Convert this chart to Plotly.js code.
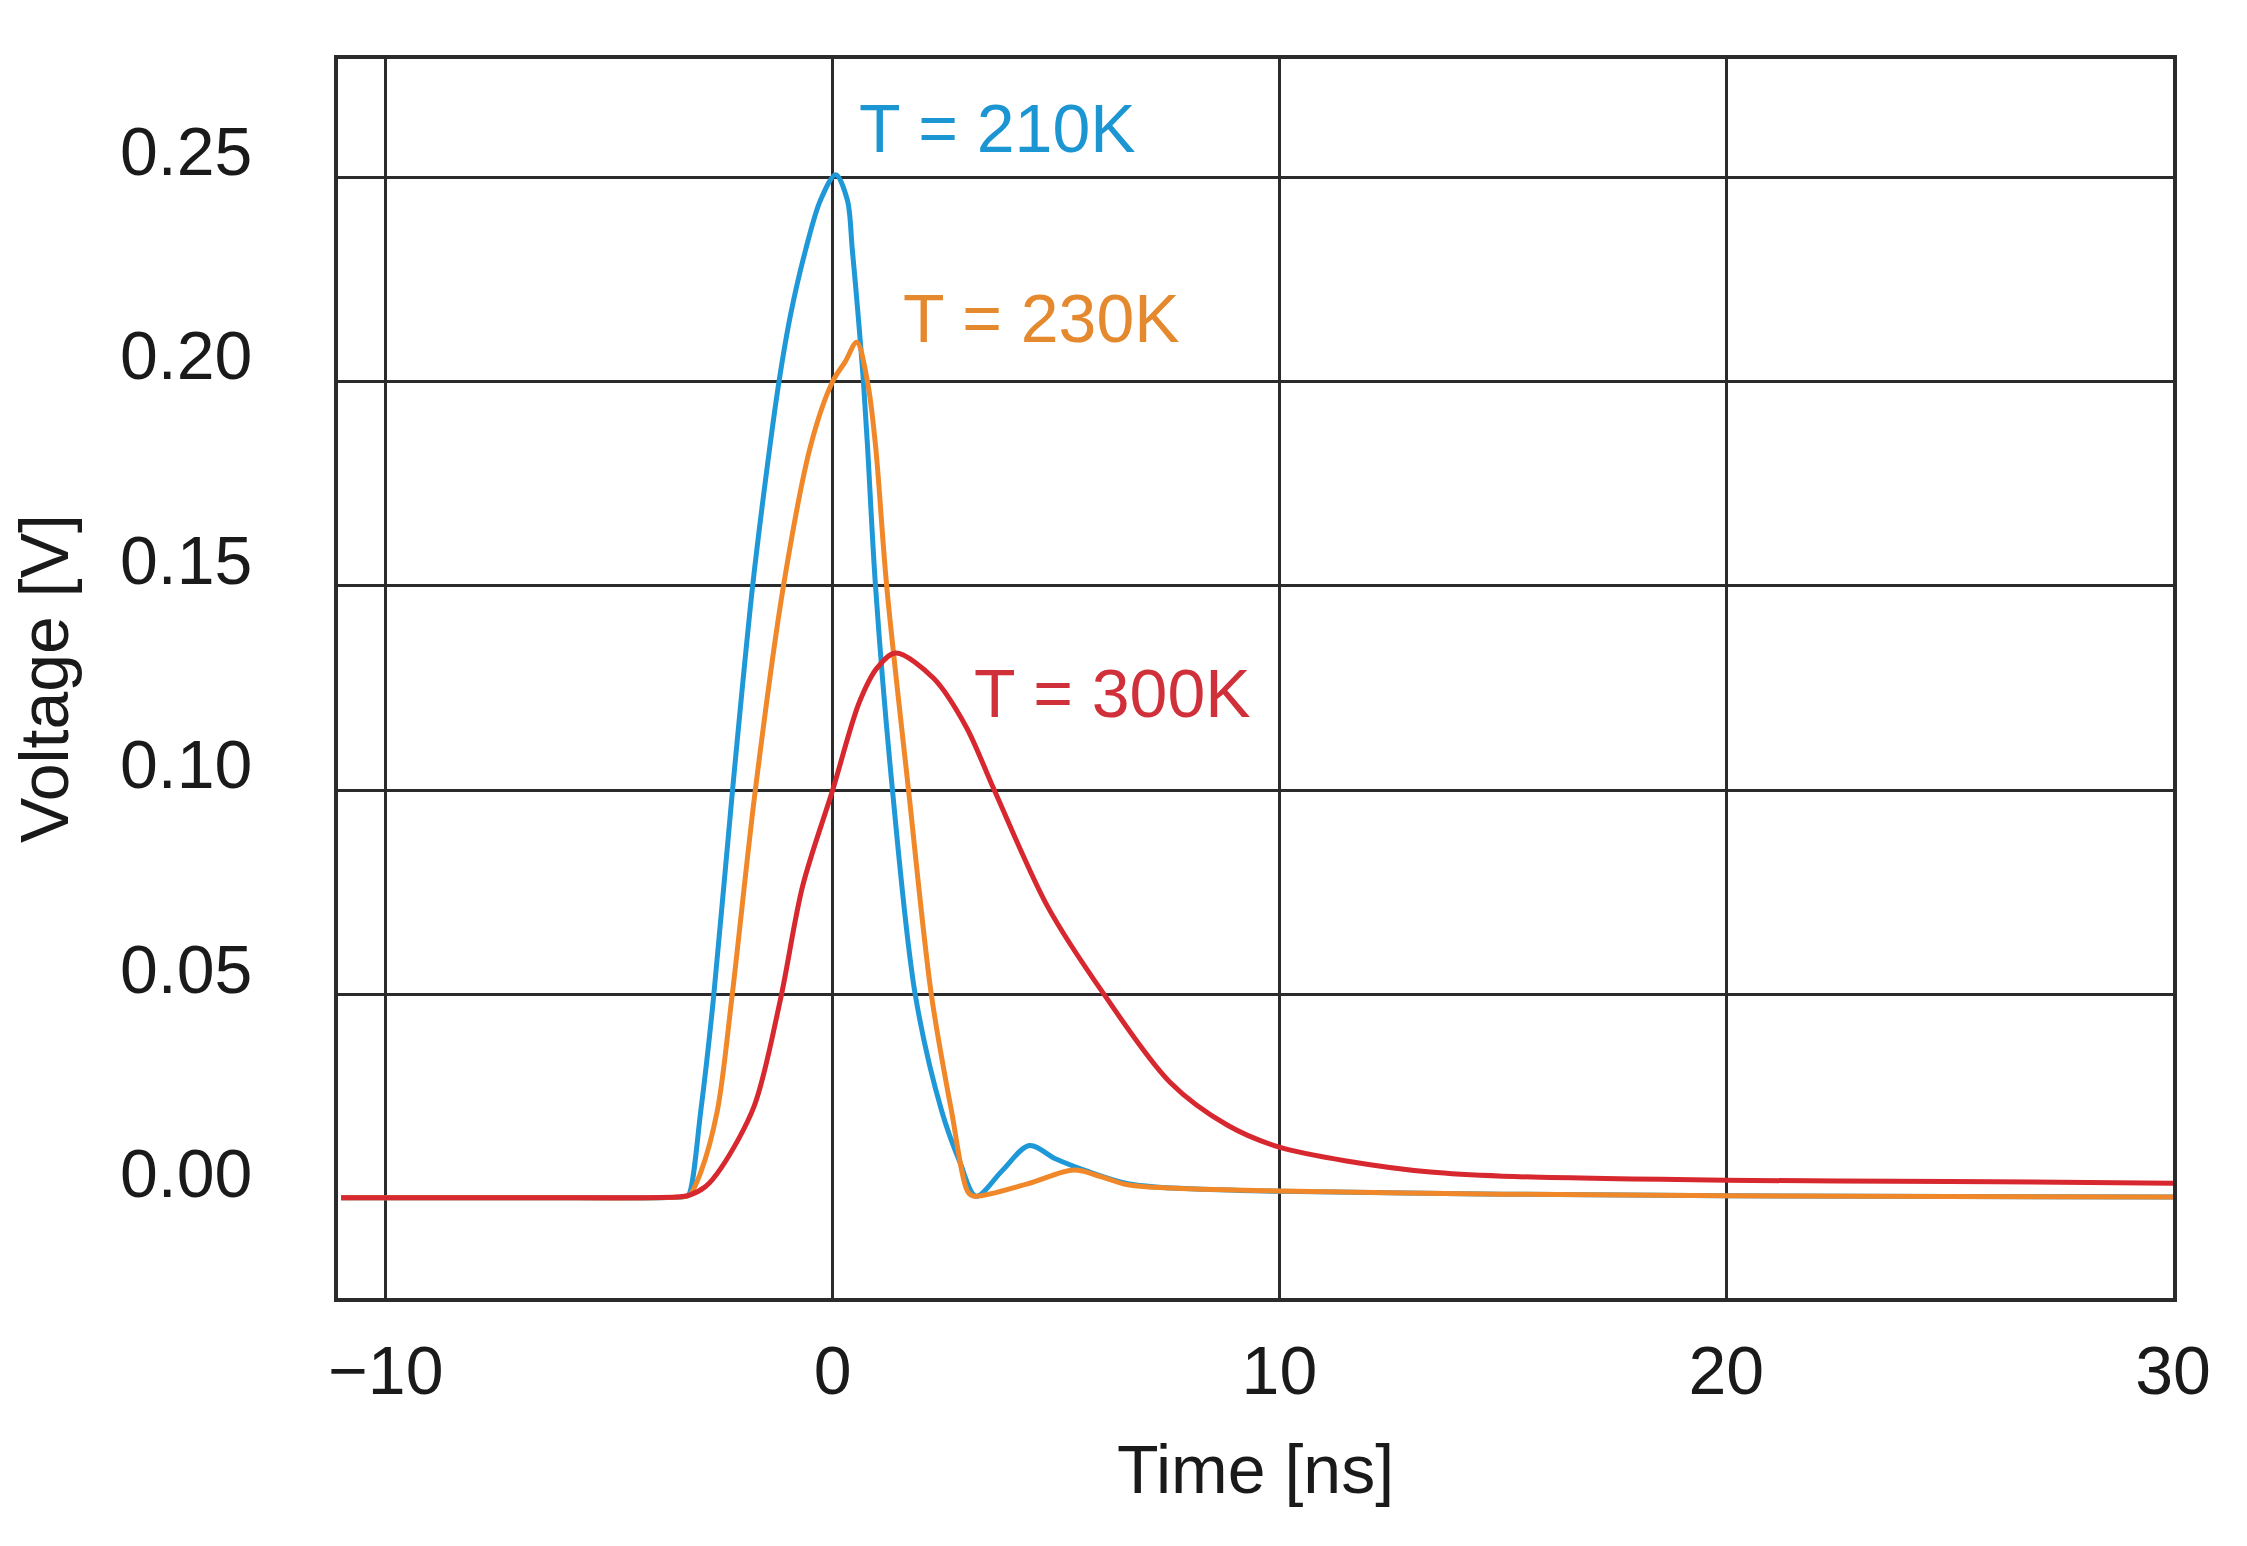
<!DOCTYPE html>
<html>
<head>
<meta charset="utf-8">
<script src="https://cdn.plot.ly/plotly-3.0.1.min.js"></script>
<style>
  html, body { margin: 0; padding: 0; background: #fff; }
  #chart { width: 2247px; height: 1546px; }
</style>
</head>
<body>
<div id="chart"></div>
<script>
// pulse response at three temperatures
var t210 = [-11, -6, -3.3, -3.22, -2.95, -2.67, -2.24, -1.79, -1.40, -1.20, -0.94, -0.60, -0.27, 0.07, 0.33, 0.44, 0.57, 0.69, 0.78, 0.96, 1.34, 1.85, 2.44, 2.85, 3.21, 3.8, 4.4, 5.0, 5.73, 6.64, 8, 10, 15, 20, 30];
var v210 = [0.0003, 0.0003, 0.0006, 0.0010, 0.0216, 0.0487, 0.100, 0.150, 0.1844, 0.200, 0.2164, 0.2324, 0.2444, 0.2506, 0.2444, 0.2324, 0.2164, 0.200, 0.1844, 0.150, 0.100, 0.050, 0.0216, 0.009, 0.0007, 0.007, 0.0131, 0.0098, 0.0067, 0.0037, 0.0025, 0.0019, 0.0012, 0.0008, 0.0005];

var t230 = [-11, -6, -3.3, -3.2, -2.95, -2.58, -2.26, -1.73, -1.10, -0.49, 0.0, 0.28, 0.54, 0.78, 0.96, 1.21, 1.70, 2.21, 2.66, 3.03, 3.17, 4.36, 5.4, 6.0, 6.6, 8, 10, 15, 20, 30];
var v230 = [0.0003, 0.0003, 0.0006, 0.0010, 0.0066, 0.0216, 0.0487, 0.100, 0.150, 0.1844, 0.200, 0.2048, 0.2096, 0.200, 0.1844, 0.150, 0.100, 0.050, 0.0216, 0.0017, 0.0007, 0.0037, 0.0071, 0.0055, 0.0035, 0.0025, 0.0020, 0.0012, 0.0008, 0.0005];

var t300 = [-11, -6, -3.5, -3.22, -2.85, -2.49, -1.76, -1.17, -0.67, 0.0, 0.60, 1.0, 1.41, 2.26, 2.99, 3.62, 4.81, 6.08, 7.55, 8.85, 10.0, 11.57, 13.38, 15, 20, 25, 30];
var v300 = [0.0003, 0.0003, 0.0005, 0.0009, 0.003, 0.0077, 0.0226, 0.0487, 0.0766, 0.100, 0.1216, 0.130, 0.1336, 0.1274, 0.1155, 0.100, 0.0716, 0.050, 0.0286, 0.0180, 0.0127, 0.0092, 0.0066, 0.0056, 0.0046, 0.0043, 0.0039];

var seriesNames = ['T = 210K', 'T = 230K', 'T = 300K'];
var xTicks = [-10, 0, 10, 20, 30];
var xTickText = ['\u221210', '0', '10', '20', '30'];
var yTicks = [0, 0.05, 0.10, 0.15, 0.20, 0.25];
var yTickText = ['0.00', '0.05', '0.10', '0.15', '0.20', '0.25'];

(function() {
  'use strict';

  var FONT = 'Liberation Sans, Arial, Helvetica, sans-serif';
  var INK = '#1a1a1a';
  var GRID = '#2b2b2b';
  var colors = ['#1f98d8', '#f0882a', '#d8282f'];
  var textColors = ['#1c95d3', '#e5892f', '#d0303a'];
  var xRange = [-11.07, 30];
  var yRange = [-0.0242, 0.2789];

  function line(x, y, i) {
    return {
      x: x, y: y,
      type: 'scatter', mode: 'lines',
      name: seriesNames[i],
      line: { color: colors[i], width: 5, shape: 'spline', smoothing: 0.9 },
      hoverinfo: 'skip'
    };
  }

  // stacking as in the original: orange over blue, red over both on the flat baseline
  var data = [
    // empty trace so the grid-only axis gets drawn
    { x: [], y: [], type: 'scatter', mode: 'lines', yaxis: 'y2', hoverinfo: 'skip' },
    line(t210, v210, 0),
    line(t230, v230, 1),
    line(t300, v300, 2)
  ];

  // label anchors (left edge, middle) next to each peak
  var labelX = [0.54, 1.52, 3.12];
  var labelY = [0.262, 0.2155, 0.1238];

  var annotations = seriesNames.map(function(name, i) {
    return {
      x: labelX[i], y: labelY[i], xref: 'x', yref: 'y',
      text: name, showarrow: false,
      xanchor: 'left', yanchor: 'middle',
      font: { family: FONT, size: 68, color: textColors[i] }
    };
  });

  var layout = {
    width: 2247,
    height: 1546,
    paper_bgcolor: '#fff',
    plot_bgcolor: '#fff',
    margin: { l: 338, r: 74, t: 59, b: 248 },
    font: { family: FONT, color: INK, size: 68 },
    showlegend: false,
    xaxis: {
      range: xRange,
      tickvals: xTicks, ticktext: xTickText,
      showgrid: true, gridcolor: GRID, gridwidth: 3,
      zeroline: false,
      showline: true, mirror: true, linecolor: GRID, linewidth: 4,
      ticks: '',
      ticklabelstandoff: 10,
      tickfont: { family: FONT, size: 68, color: INK },
      title: { text: 'Time [ns]', standoff: 40, font: { family: FONT, size: 68, color: INK } }
    },
    yaxis: {
      range: yRange,
      tickvals: yTicks, ticktext: yTickText,
      showgrid: false,
      zeroline: false,
      showline: true, mirror: true, linecolor: GRID, linewidth: 4,
      ticks: '',
      ticklabelstandoff: 68,
      ticklabelshift: -26,
      tickfont: { family: FONT, size: 68, color: INK },
      title: { text: 'Voltage [V]', standoff: 30, font: { family: FONT, size: 68, color: INK } }
    },
    // grid only at the labelled levels above zero
    yaxis2: {
      overlaying: 'y',
      range: yRange,
      tickvals: yTicks.slice(1),
      showticklabels: false,
      showgrid: true, gridcolor: GRID, gridwidth: 3,
      zeroline: false, showline: false, ticks: ''
    },
    annotations: annotations
  };

  Plotly.newPlot('chart', data, layout, { displayModeBar: false, staticPlot: true });
})();
</script>
</body>
</html>
